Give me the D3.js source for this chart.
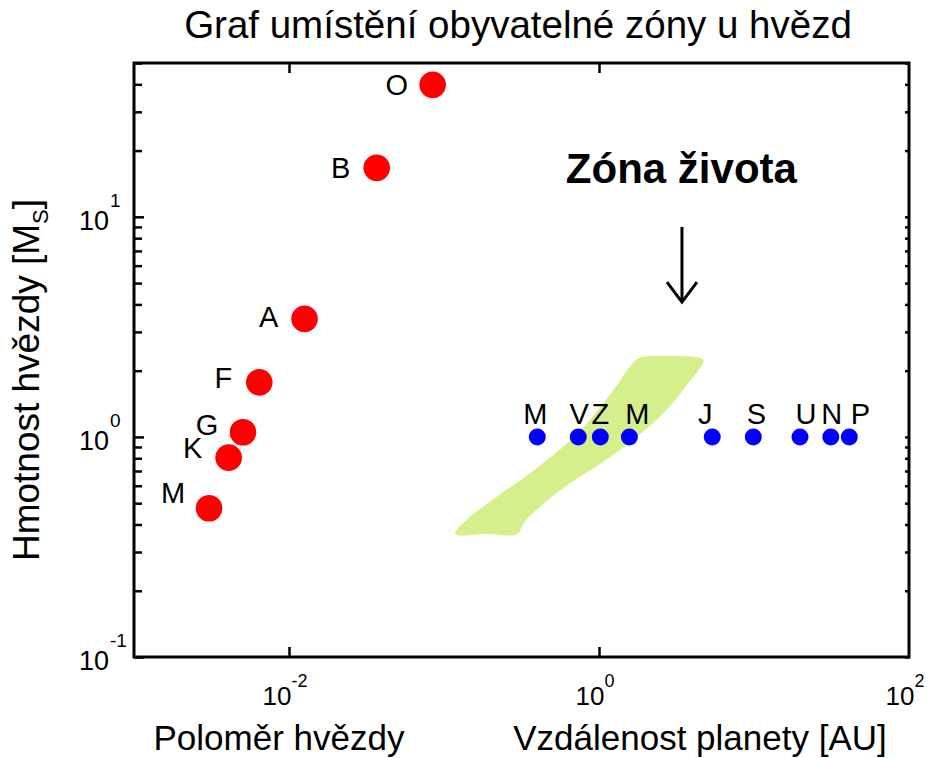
<!DOCTYPE html>
<html>
<head>
<meta charset="utf-8">
<script src="https://cdn.jsdelivr.net/npm/d3@7"></script>
<style>
  body { margin: 0; background: #fff; }
  text { font-family: "Liberation Sans", Arial, sans-serif; fill: #000; }
</style>
</head>
<body>
<div id="chart"></div>
<script>
// stars: spectral class, radius (x), mass in solar masses (y)
var starClass = ["O", "B", "A", "F", "G", "K", "M"];
var starRadius = [0.0845, 0.0368, 0.0126, 0.00643, 0.00505, 0.00408, 0.00305];
var starMass = [39.8, 16.7, 3.44, 1.77, 1.05, 0.805, 0.474];

// planets of the solar system, distance in AU, drawn on the 1 M_S line
var planetName = ["M", "V", "Z", "M", "J", "S", "U", "N", "P"];
var planetDist = [0.40, 0.735, 1.02, 1.57, 5.38, 9.9, 19.8, 31.3, 41.2];
var planetMass = [1, 1, 1, 1, 1, 1, 1, 1, 1];

// outline of the habitable zone (AU, M_S)
var zoneDist = [0.118, 0.140, 0.219, 0.359, 0.589, 0.875, 1.24, 1.585, 1.79, 2.59,
                4.71, 4.48, 3.50, 2.60, 1.75, 1.07, 0.650, 0.416, 0.325, 0.297, 0.19];
var zoneMass = [0.362, 0.42, 0.535, 0.684, 0.904, 1.195, 1.635, 2.09, 2.28, 2.33,
                2.24, 2.06, 1.64, 1.28, 1.0, 0.772, 0.616, 0.482, 0.405, 0.362, 0.362];

// annotation
var zoneLabel = "Zóna života";
var zoneLabelDist = 3.4, zoneLabelMass = 14.3;
var arrowDist = 3.43, arrowMass = [9.0, 4.1];

// axis ticks
var xTicks = [1e-2, 1e0, 1e2];
var xTickExp = ["-2", "0", "2"];
var yTicks = [1e-1, 1e0, 1e1];
var yTickExp = ["-1", "0", "1"];
var yMinor = [0.2, 0.3, 0.4, 0.5, 0.6, 0.7, 0.8, 0.9, 2, 3, 4, 5, 6, 7, 8, 9, 20, 30, 40, 50];

// label nudges (pixels)
var starLabelDy = [0, 0, -2, -4, -7, -10, -15];
var planetLabelDx = [-2, 1, 0, 8, -7, 3, 6, 1, 11];

var margin = {top: 63, right: 27, bottom: 101, left: 134},
    width = 936 - margin.left - margin.right,
    height = 758 - margin.top - margin.bottom;

var svg = d3.select("#chart")
  .append("svg")
    .attr("width", width + margin.left + margin.right)
    .attr("height", height + margin.top + margin.bottom);

var g = svg.append("g")
    .attr("transform", "translate(" + margin.left + "," + margin.top + ")");

var x = d3.scaleLog().domain([1e-3, 1e2]).range([0, width]);
var y = d3.scaleLog().domain([0.1, 50]).range([height, 0]);

// habitable zone
var zonePts = zoneDist.map(function(d, i) { return [x(d), y(zoneMass[i])]; });
g.append("path")
  .attr("d", d3.line().curve(d3.curveCatmullRomClosed.alpha(0.5))(zonePts))
  .attr("fill", "#d5ef8b");

// ticks
function ticks(axis, pos, size, values) {
  var t = g.append("g")
    .attr("transform", pos)
    .call(axis.tickValues(values).tickSize(size).tickFormat(""));
  t.select(".domain").remove();
  t.selectAll("line").attr("stroke", "#000").attr("stroke-width", 2.5);
}
ticks(d3.axisLeft(y), "translate(0,0)", -8, yMinor);
ticks(d3.axisLeft(y), "translate(0,0)", -10, yTicks);
ticks(d3.axisRight(y), "translate(" + width + ",0)", -4, yMinor.concat(yTicks));
ticks(d3.axisBottom(x), "translate(0," + height + ")", -10, [1e-2, 1e0]);
ticks(d3.axisTop(x), "translate(0,0)", -10, [1e-2, 1e0]);

// frame
g.append("rect")
  .attr("width", width)
  .attr("height", height)
  .attr("fill", "none")
  .attr("stroke", "#000")
  .attr("stroke-width", 3);

// y tick labels
yTicks.forEach(function(v, i) {
  g.append("text")
    .attr("x", -25).attr("y", y(v) + 13)
    .attr("text-anchor", "end")
    .style("font-size", "27px")
    .text("10");
  g.append("text")
    .attr("x", -24).attr("y", y(v) - 10)
    .style("font-size", "19px")
    .text(yTickExp[i]);
});

// x tick labels
xTicks.forEach(function(v, i) {
  var t = g.append("text")
    .attr("x", x(v) - 4).attr("y", height + 48)
    .attr("text-anchor", "middle")
    .style("font-size", "26px");
  t.append("tspan").text("10");
  t.append("tspan").attr("dy", -18).style("font-size", "18px").text(xTickExp[i]);
});

// stars
g.selectAll(".star")
  .data(starClass)
  .enter()
  .append("circle")
    .attr("class", "star")
    .attr("cx", function(d, i) { return x(starRadius[i]); })
    .attr("cy", function(d, i) { return y(starMass[i]); })
    .attr("r", 13.3)
    .attr("fill", "#ff0000");

g.selectAll(".starLabel")
  .data(starClass)
  .enter()
  .append("text")
    .attr("class", "starLabel")
    .attr("x", function(d, i) { return x(starRadius[i]) - 36; })
    .attr("y", function(d, i) { return y(starMass[i]) + starLabelDy[i] + 10; })
    .attr("text-anchor", "middle")
    .style("font-size", "29px")
    .text(function(d) { return d; });

// planets
g.selectAll(".planet")
  .data(planetName)
  .enter()
  .append("circle")
    .attr("class", "planet")
    .attr("cx", function(d, i) { return x(planetDist[i]); })
    .attr("cy", function(d, i) { return y(planetMass[i]); })
    .attr("r", 8.5)
    .attr("fill", "#0000ff");

g.selectAll(".planetLabel")
  .data(planetName)
  .enter()
  .append("text")
    .attr("class", "planetLabel")
    .attr("x", function(d, i) { return x(planetDist[i]) + planetLabelDx[i]; })
    .attr("y", function(d, i) { return y(planetMass[i]) - 13; })
    .attr("text-anchor", "middle")
    .style("font-size", "29px")
    .text(function(d) { return d; });

// annotation: label and arrow
g.append("text")
  .attr("x", x(zoneLabelDist))
  .attr("y", y(zoneLabelMass))
  .attr("text-anchor", "middle")
  .style("font-size", "42px")
  .style("font-weight", "bold")
  .text(zoneLabel);

var ax = x(arrowDist), ay0 = y(arrowMass[0]), ay1 = y(arrowMass[1]);
g.append("line")
  .attr("x1", ax).attr("x2", ax)
  .attr("y1", ay0).attr("y2", ay1)
  .attr("stroke", "#000").attr("stroke-width", 3);
g.append("path")
  .attr("d", "M" + (ax - 15) + "," + (ay1 - 20) + "L" + ax + "," + ay1 + "L" + (ax + 15) + "," + (ay1 - 20))
  .attr("fill", "none").attr("stroke", "#000").attr("stroke-width", 3);

// title and axis labels
svg.append("text")
  .attr("x", 518).attr("y", 38)
  .attr("text-anchor", "middle")
  .style("font-size", "38.5px")
  .text("Graf umístění obyvatelné zóny u hvězd");

svg.append("text")
  .attr("x", 279).attr("y", 750)
  .attr("text-anchor", "middle")
  .style("font-size", "35px")
  .text("Poloměr hvězdy");

svg.append("text")
  .attr("x", 700).attr("y", 750)
  .attr("text-anchor", "middle")
  .style("font-size", "35px")
  .text("Vzdálenost planety [AU]");

var yl = svg.append("text")
  .attr("transform", "translate(39,380) rotate(-90)")
  .attr("text-anchor", "middle")
  .style("font-size", "37px");
yl.append("tspan").text("Hmotnost hvězdy [M");
yl.append("tspan").attr("dy", 9).style("font-size", "22px").text("S");
yl.append("tspan").attr("dy", -9).text("]");
</script>
</body>
</html>
